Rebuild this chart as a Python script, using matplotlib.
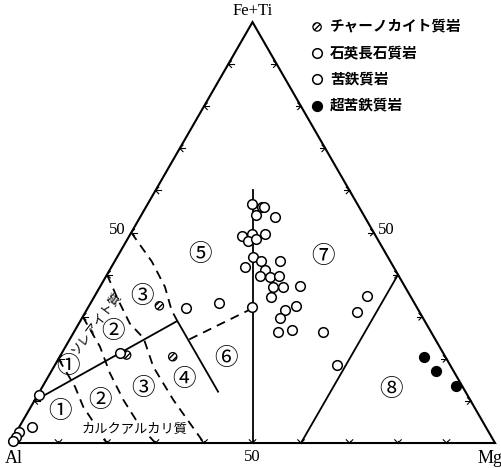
import numpy as np
import matplotlib.pyplot as plt

plt.rcParams['font.family'] = ['Noto Sans CJK JP', 'DejaVu Sans']

# compositions in cation % : Al, Fe+Ti, Mg
charno_al = [52.9, 65.5, 56.2]
charno_fe = [32.6, 20.9, 20.5]
charno_mg = [14.5, 13.6, 23.3]

felsic_al = [47.8, 66.6, 88.3, 93.6, 96.7, 98.0, 99.1]
felsic_fe = [32.0, 21.4, 11.4, 3.9, 2.7, 1.5, 0.5]
felsic_mg = [20.2, 12.0, 0.3, 2.5, 0.6, 0.5, 0.4]

mafic_al = [21.8, 20.1, 19.6, 22.2, 18.6, 27.6, 25.4, 26.8, 25.1, 22.6, 27.8,
            26.7, 22.7, 30.6, 26.9, 28.7, 26.7, 24.6, 27.3, 25.2, 21.5, 28.9,
            40.3, 34.1, 27.5, 24.8, 29.5, 31.5, 28.5, 22.3, 9.0, 12.8, 23.4]
mafic_fe = [56.8, 56.0, 56.0, 54.2, 53.6, 49.2, 49.6, 48.1, 48.4, 49.6, 44.1,
            43.2, 43.2, 41.9, 41.1, 39.7, 39.4, 39.7, 37.0, 37.1, 37.4, 34.7,
            33.3, 32.2, 31.6, 32.5, 29.6, 26.4, 26.8, 26.4, 34.9, 31.2, 18.5]
mafic_mg = [21.4, 23.9, 24.4, 23.6, 27.8, 23.2, 25.0, 25.1, 26.5, 27.8, 28.1,
            30.1, 34.1, 27.5, 32.0, 31.6, 33.9, 35.7, 35.7, 37.7, 41.1, 36.4,
            26.4, 33.7, 40.9, 42.7, 40.9, 42.1, 44.7, 51.3, 56.1, 56.0, 58.1]

ultra_al = [4.5, 3.5, 1.2]
ultra_fe = [20.4, 17.2, 13.5]
ultra_mg = [75.1, 79.3, 85.3]

legend_labels = ['チャーノカイト質岩', '石英長石質岩', '苦鉄質岩', '超苦鉄質岩']

# field boundaries (Al, Fe+Ti, Mg)
solid_lines = [
    [(50, 0, 50), (20, 60, 20)],
    [(40, 0, 60), (0, 40, 60)],
    [(90, 10, 0), (51, 29, 20), (51, 12.2, 36.8)],
]
dashed_lines = [
    [(34, 32, 34), (51, 24.5, 24.5)],
    [(50, 50, 0), (49.2, 43.1, 7.7), (49.5, 37.1, 13.4), (50.9, 31.6, 17.5), (51, 29, 20)],
    [(60, 40, 0), (60.7, 34.0, 5.3), (61.1, 28.4, 10.5), (60.0, 24.9, 15.1),
     (61.4, 18.1, 20.5), (61.2, 10.2, 28.6), (60, 0, 40)],
    [(70, 30, 0), (70.0, 22.9, 7.1), (71.1, 16.6, 12.3), (71.5, 10.2, 18.3),
     (71.2, 3.9, 24.9), (70, 0, 30)],
    [(80, 20, 0), (79.9, 13.4, 6.7), (80.6, 8.6, 10.8), (80.4, 6.2, 13.4), (80, 0, 20)],
]

field_names = ['①', '②', '③', '①', '②', '③', '④', '⑤', '⑥', '⑦', '⑧']
field_fe = [18.1, 26.4, 34.8, 7.4, 10.2, 13.0, 15.0, 44.7, 20.1, 44.4, 12.8]
field_mg = [3.0, 8.1, 9.8, 6.6, 13.5, 21.0, 28.3, 16.9, 34.6, 42.3, 72.1]

S = np.sqrt(3) / 2


def xy(fe, mg):
    fe = np.asarray(fe, dtype=float)
    mg = np.asarray(mg, dtype=float)
    return mg + fe / 2, fe * S


def line_xy(pts):
    fe = [p[1] for p in pts]
    mg = [p[2] for p in pts]
    return xy(fe, mg)


fig = plt.figure(figsize=(5.02, 4.68), dpi=100)
ax = fig.add_axes([0, 0, 1, 1])
ax.set_xlim(-2.06, 101.44)
ax.set_ylim(-5.14, 91.15)
ax.axis('off')

# triangle
tx, ty = line_xy([(100, 0, 0), (0, 0, 100), (0, 100, 0), (100, 0, 0)])
ax.plot(tx, ty, color='black', lw=1.5, solid_joinstyle='miter')

# arrow-like ticks every 10 %
def chevron(px, py, dx, dy, arm=0.95, stem=1.1):
    for a in (np.radians(45), -np.radians(45)):
        rx = -dx * np.cos(a) + dy * np.sin(a)
        ry = -dx * np.sin(a) - dy * np.cos(a)
        ax.plot([px, px + arm * rx], [py, py + arm * ry], color='black', lw=0.8)
    ax.plot([px, px - stem * dx], [py, py - stem * dy], color='black', lw=0.8)

for k in range(10, 100, 10):
    bx, by = xy(0, k)
    chevron(bx, by, 0, -1, stem=0.4)
    lx, ly = xy(k, 0)
    chevron(lx, ly, -1, 0)
    rx, ry = xy(100 - k, k)
    chevron(rx, ry, 1, 0)

for pts in solid_lines:
    x, y = line_xy(pts)
    ax.plot(x, y, color='black', lw=1.3)
for pts in dashed_lines:
    x, y = line_xy(pts)
    ax.plot(x, y, color='black', lw=1.3, ls=(0, (5, 3.5)))

# samples
x, y = xy(charno_fe, charno_mg)
h1 = ax.scatter(x, y, s=36, facecolor='white', edgecolor='black', hatch='//////',
                lw=0.9, zorder=5)
x, y = xy(felsic_fe, felsic_mg)
h2 = ax.scatter(x, y, s=48, facecolor='white', edgecolor='black', lw=1.1, zorder=5)
x, y = xy(mafic_fe, mafic_mg)
h3 = ax.scatter(x, y, s=48, facecolor='white', edgecolor='black', lw=1.1, zorder=5)
x, y = xy(ultra_fe, ultra_mg)
h4 = ax.scatter(x, y, s=50, facecolor='black', edgecolor='black', zorder=5)

# field numbers
for name, fe, mg in zip(field_names, field_fe, field_mg):
    x, y = xy(fe, mg)
    ax.text(x, y, name, fontsize=17, ha='center', va='center')

ax.text(*xy(28.5, 3.6), 'ソレアイト質', fontsize=9, rotation=53,
        ha='center', va='center')
ax.text(*xy(3.3, 24.0), 'カルクアルカリ質', fontsize=9.5, ha='center', va='center',
        bbox=dict(facecolor='white', edgecolor='none', pad=0.5), zorder=4)

serif = ['Liberation Serif', 'DejaVu Serif']
ax.text(50.1, 88.8, 'Fe+Ti', fontsize=12, family=serif, ha='center', va='center')
ax.text(0.8, -3.2, 'Al', fontsize=13, family=serif, ha='center', va='center')
ax.text(99.0, -3.2, 'Mg', fontsize=13, family=serif, ha='center', va='center')
ax.text(49.9, -2.8, '50', fontsize=12, family=serif, ha='center', va='center')
ax.text(22.2, 43.8, '50', fontsize=12, family=serif, ha='center', va='center')
ax.text(77.6, 43.8, '50', fontsize=12, family=serif, ha='center', va='center')

ax.legend([h1, h2, h3, h4], legend_labels, loc='upper left',
          bbox_to_anchor=(0.62, 0.962), frameon=False,
          prop={'size': 10.5, 'weight': 'bold'},
          handlelength=0.8, handletextpad=0.5, labelspacing=0.7,
          borderaxespad=0, borderpad=0)

fig.savefig('out.png', dpi=100)
